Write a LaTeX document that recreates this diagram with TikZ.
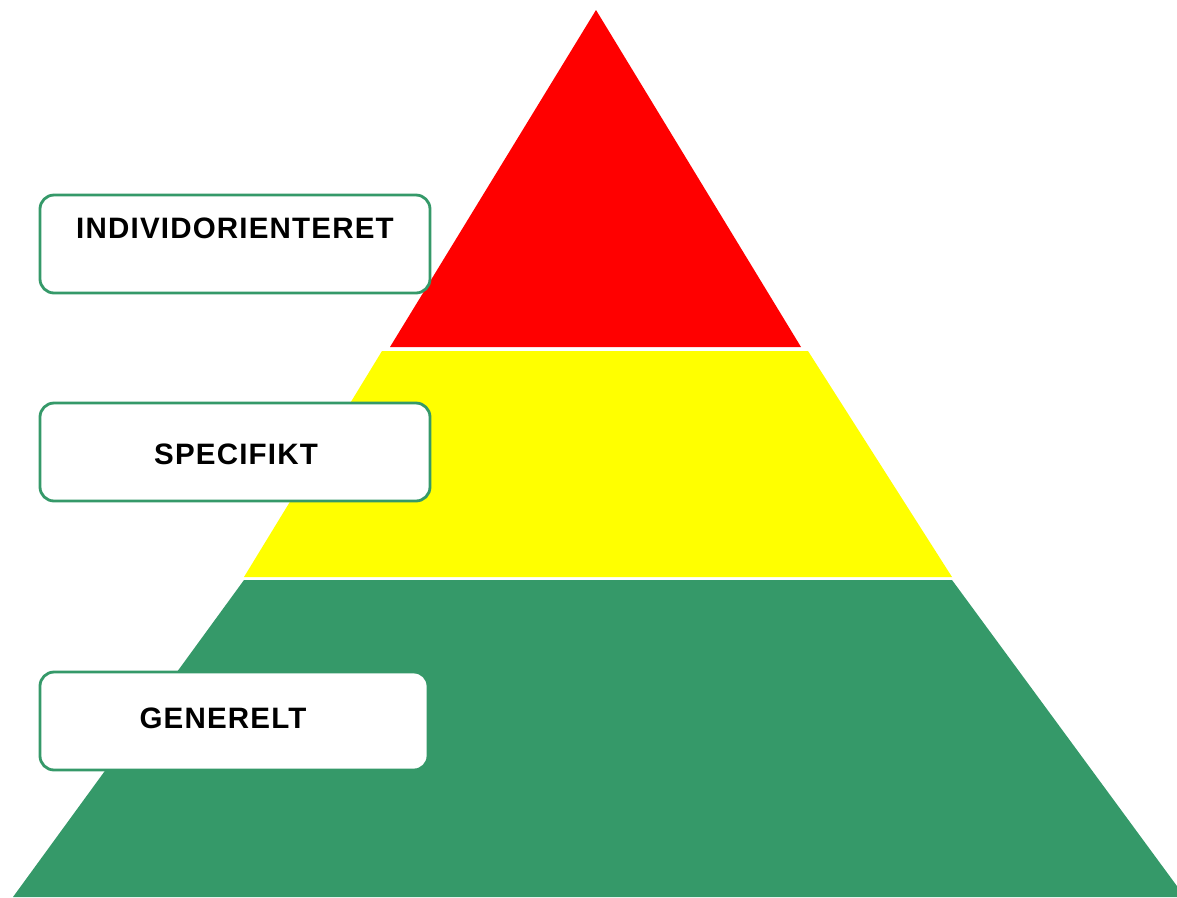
\documentclass[tikz,border=0pt]{standalone}
\usepackage{fontspec}
\setmainfont{Liberation Sans}
\usepackage{tikz}
\definecolor{top_c}{RGB}{255,0,0}
\definecolor{mid_c}{RGB}{255,255,0}
\definecolor{base_c}{RGB}{53,153,105}
\begin{document}
\begin{tikzpicture}[x=0.025cm, y=-0.025cm,
  lbox/.style={draw=base_c, fill=white, rounded corners=10pt,
               line width=2pt, minimum width=390*0.025cm,
               minimum height=98*0.025cm, inner sep=0pt},
  ltxt/.style={font=\fontsize{21}{24}\selectfont\bfseries\addfontfeature{LetterSpace=4},
               inner sep=0pt},
]
\useasboundingbox (0,0) rectangle (1177,897);
\begin{scope}
\clip (0,0) rectangle (1177,897);
% pyramid levels
\fill[top_c]  (596,10) -- (801,347) -- (390,347) -- cycle;
\fill[mid_c]  (382,351) -- (808,351) -- (952,577) -- (244,577) -- cycle;
\fill[base_c] (244,580) -- (952,580) -- (1185,897) -- (13,897) -- cycle;
\end{scope}
% labels
\node[lbox] (indbox) at (235,244) {};
\node[ltxt] (ind) at (235,228) {INDIVIDORIENTERET};
\node[lbox] (spebox) at (235,452) {};
\node[ltxt] (spe) at (236,454) {SPECIFIKT};
\node[lbox, minimum width=388*0.025cm] (genbox) at (234,721) {};
\node[ltxt] (gen) at (223,718) {GENERELT};
\end{tikzpicture}
\end{document}
